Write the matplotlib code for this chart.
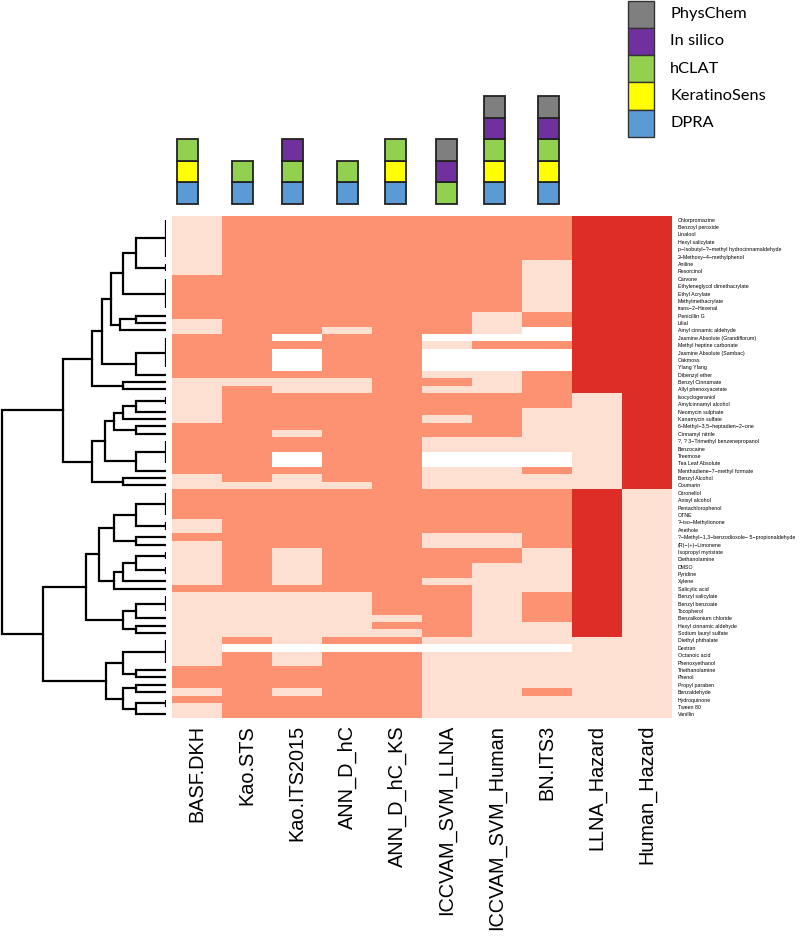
import numpy as np
import matplotlib
matplotlib.use("Agg")
import matplotlib.pyplot as plt
from matplotlib.colors import ListedColormap
from matplotlib.patches import Rectangle

N = None
# ---------------- data ----------------
row_labels = [
    "Chlorpromazine", "Benzoyl peroxide", "Linalool", "Hexyl salicylate",
    "p-Isobutyl-?-methyl hydrocinnamaldehyde", "2-Methoxy-4-methylphenol", "Aniline",
    "Resorcinol", "Carvone", "Ethyleneglycol dimethacrylate", "Ethyl Acrylate",
    "Methylmethacrylate", "trans-2-Hexenal", "Penicillin G", "Lilial",
    "Amyl cinnamic aldehyde", "Jasmine Absolute (Grandiflorum)", "Methyl heptine carbonate",
    "Jasmine Absolute (Sambac)", "Oakmoss", "Ylang Ylang", "Dibenzyl ether",
    "Benzyl Cinnamate", "Allyl phenoxyacetate", "Isocyclogeraniol", "Amylcinnamyl alcohol",
    "Neomycin sulphate", "Kanamycin sulfate", "6-Methyl-3,5-heptadien-2-one",
    "Cinnamyl nitrile", "?, ? 3-Trimethyl benzenepropanol", "Benzocaine", "Treemose",
    "Tea Leaf Absolute", "Menthadiene-7-methyl formate", "Benzyl Alcohol", "Coumarin",
    "Citronellol", "Anisyl alcohol", "Pentachlorophenol", "OTNE", "?-iso-Methylionone",
    "Anethole", "?-Methyl-1,3-benzodioxole- 5-propionaldehyde", "(R)-(+)-Limonene",
    "Isopropyl myristate", "Diethanolamine", "DMSO", "Pyridine", "Xylene",
    "Salicylic acid", "Benzyl salicylate", "Benzyl benzoate", "Tocopherol",
    "Benzalkonium chloride", "Hexyl cinnamic aldehyde", "Sodium lauryl sulfate",
    "Diethyl phthalate", "Dextran", "Octanoic acid", "Phenoxyethanol", "Triethanolamine",
    "Phenol", "Propyl paraben", "Benzaldehyde", "Hydroquinone", "Tween 80", "Vanillin",
]

col_labels = ["BASF.DKH", "Kao.STS", "Kao.ITS2015", "ANN_D_hC", "ANN_D_hC_KS",
              "ICCVAM_SVM_LLNA", "ICCVAM_SVM_Human", "BN.ITS3", "LLNA_Hazard", "Human_Hazard"]

BASF_DKH = [0]*8 + [1]*6 + [0]*2 + [1]*6 + [0]*6 + [1]*7 + [0]*2 + [1]*4 + [0]*2 + [1] + [0]*6 + [1] + [0]*10 + [1, 1, 1, 0, 1, 0, 0]
Kao_STS = [1]*22 + [0] + [1]*13 + [0] + [1]*14 + [0]*6 + [1] + [N] + [1]*2 + [1]*7
Kao_ITS2015 = [1]*16 + [N] + [1] + [N]*3 + [1] + [0]*2 + [1]*5 + [0] + [1]*2 + [N]*2 + [1] + [0]*2 + [1]*8 + [0]*5 + [1] + [0]*7 + [N] + [0]*2 + [1, 1, 1, 0, 1, 1, 1]
ANN_D_hC = [1]*15 + [0] + [1]*6 + [0]*2 + [1]*12 + [0] + [1]*14 + [0]*6 + [1] + [N] + [1]*2 + [1]*7
ANN_D_hC_KS = [1]*54 + [0] + [1] + [0] + [1] + [N] + [1]*2 + [1]*7
ICCVAM_SVM_LLNA = [1]*16 + [N] + [0] + [N]*3 + [0] + [1] + [0] + [1]*3 + [0] + [1]*2 + [0]*2 + [N]*2 + [0]*3 + [1]*6 + [0]*2 + [1]*4 + [0] + [1]*7 + [0] + [N] + [0]*2 + [0]*7
ICCVAM_SVM_Human = [1]*13 + [0]*3 + [N] + [1] + [N]*3 + [0]*3 + [1]*6 + [0]*2 + [N]*2 + [0]*3 + [1]*6 + [0]*2 + [1]*2 + [0]*11 + [N] + [0]*2 + [0]*7
BN_ITS3 = [1]*6 + [0]*7 + [1]*2 + [N]*2 + [1] + [N]*3 + [1]*5 + [0]*6 + [N]*2 + [1] + [0]*2 + [1]*8 + [0]*6 + [1]*4 + [0]*3 + [N] + [0]*2 + [0, 0, 0, 1, 0, 0, 0]
LLNA_Hazard = [1]*24 + [0]*13 + [1]*20 + [0]*11
Human_Hazard = [1]*37 + [0]*31

predictions = [BASF_DKH, Kao_STS, Kao_ITS2015, ANN_D_hC, ANN_D_hC_KS,
               ICCVAM_SVM_LLNA, ICCVAM_SVM_Human, BN_ITS3]
hazards = [LLNA_Hazard, Human_Hazard]

# information sources used by each defined approach (bottom to top)
sources = ["DPRA", "KeratinoSens", "hCLAT", "In silico", "PhysChem"]
approach_inputs = [
    ["DPRA", "KeratinoSens", "hCLAT"],
    ["DPRA", "hCLAT"],
    ["DPRA", "hCLAT", "In silico"],
    ["DPRA", "hCLAT"],
    ["DPRA", "KeratinoSens", "hCLAT"],
    ["hCLAT", "In silico", "PhysChem"],
    ["DPRA", "KeratinoSens", "hCLAT", "In silico", "PhysChem"],
    ["DPRA", "KeratinoSens", "hCLAT", "In silico", "PhysChem"],
]

# row dendrogram: (height, left, right); ("g", a, b) = identical leaves a..b
G = lambda a, b: ("g", a, b)
A1 = (30, G(0, 5), G(6, 7))
A2 = (42.3, A1, G(8, 12))
A3 = (54.7, A2, (45.7, (30, 13, 14), 15))
A4 = (64, A3, (30, G(16, 20), 21))
A5 = (74, A4, (42.3, 22, 23))
B4 = (51.7, (42.3, (30, G(24, 25), 26), 27), (30, 28, 29))
B6 = (60.3, B4, (30, G(30, 33), 34))
B8 = (74, B6, (42.3, 35, 36))
TOP = (103, A5, B8)
C3 = (51.7, (30, G(37, 40), G(41, 42)), (30, 43, 44))
C4 = (51.7, (42.3, (30, G(45, 46), G(47, 48)), 49), 50)
C6 = (42.3, (30, G(51, 53), 54), (30, 55, 56))
C7 = (79.7, (66.7, C3, C4), C6)
D = (60, (42.3, G(57, 60), (30, 61, 62)), (42.3, (30, 63, 64), (30, G(65, 66), 67)))
ROOT = (164, TOP, (123, C7, D))

# ---------------- layout ----------------
W, H = 800, 943
fig = plt.figure(figsize=(W / 100, H / 100), dpi=100)

def px_axes(x0, y0, x1, y1):
    return fig.add_axes([x0 / W, 1 - y1 / H, (x1 - x0) / W, (y1 - y0) / H])

HM_L, HM_R, HM_T, HM_B = 172, 672, 216, 718
nrow, ncol = len(row_labels), len(col_labels)

mat = np.full((nrow, ncol), np.nan)
for j, col in enumerate(predictions):
    for i, v in enumerate(col):
        if v is not None:
            mat[i, j] = v
for k, col in enumerate(hazards):
    for i, v in enumerate(col):
        mat[i, len(predictions) + k] = 2 * v

cmap = ListedColormap(["#fee0d2", "#fc9272", "#de2d26"])
cmap.set_bad("white")

ax = px_axes(HM_L, HM_T, HM_R, HM_B)
ax.imshow(np.ma.masked_invalid(mat), cmap=cmap, vmin=-0.5, vmax=2.5, aspect="auto",
          interpolation="nearest", extent=(0, ncol, nrow, 0))
ax.set_xlim(0, ncol)
ax.set_ylim(nrow, 0)
for s in ax.spines.values():
    s.set_visible(False)
ax.set_xticks(np.arange(ncol) + 0.5)
ax.set_xticklabels(col_labels, rotation=90, fontsize=14.3, family="Liberation Sans", va="top")
ax.tick_params(axis="x", length=0, pad=5)
ax.yaxis.tick_right()
ax.set_yticks(np.arange(nrow) + 0.5)
ax.set_yticklabels([l.replace("-", "\u2212") for l in row_labels], fontsize=3.8,
                   family="Liberation Sans")
ax.tick_params(axis="y", length=0, pad=4)

# dendrogram
axd = px_axes(0, HM_T, 166, HM_B)
axd.set_xlim(165.7, -0.3)
axd.set_ylim(nrow, 0)
axd.axis("off")
LW = 1.6

def draw(n):
    if isinstance(n, int):
        return n + 0.5, 0.0
    if n[0] == "g":
        a, b = n[1], n[2]
        axd.plot([0, 0], [a + 0.5, b + 0.5], color="black", lw=LW, solid_capstyle="butt")
        return (a + b + 1) / 2.0, 0.0
    h, l, r = n
    y1, h1 = draw(l)
    y2, h2 = draw(r)
    axd.plot([h1, h, h, h2], [y1, y1, y2, y2], color="black", lw=LW,
             solid_joinstyle="miter")
    return (y1 + y2) / 2.0, h

draw(ROOT)

# stacked information-source squares
colors = {"PhysChem": "#7f7f7f", "In silico": "#7030a0", "hCLAT": "#92d050",
          "KeratinoSens": "#ffff00", "DPRA": "#5b9bd5"}
axt = px_axes(HM_L, 0, HM_R, HM_T)
axt.set_xlim(0, ncol)
axt.set_ylim(0, HM_T)
axt.axis("off")
SQ_W = 21 / 50.0
SQ_H = 21.6
BASE = 12
x_off = [-0.19, -0.09, -0.1, 0.0, -0.03, -0.02, -0.05, 0.02]
for j, inputs in enumerate(approach_inputs):
    cx = j + 0.5 + x_off[j]
    for k, src in enumerate(inputs):
        axt.add_patch(Rectangle((cx - SQ_W / 2, BASE + k * SQ_H), SQ_W, SQ_H,
                                facecolor=colors[src], edgecolor="#222222", lw=1.3))

# legend
axl = px_axes(600, 0, 800, 140)
axl.set_xlim(600, 800)
axl.set_ylim(140, 0)
axl.axis("off")
LB_H = 27.3
for k, src in enumerate(sources[::-1]):
    y0 = 0.5 + k * LB_H
    axl.add_patch(Rectangle((627.5, y0), 26.5, LB_H, facecolor=colors[src],
                            edgecolor="#333333", lw=1.0))
    axl.text(670, y0 + LB_H / 2, src, fontsize=11.8, family="Lato", va="center", ha="left")

fig.savefig("out.png", dpi=100)
